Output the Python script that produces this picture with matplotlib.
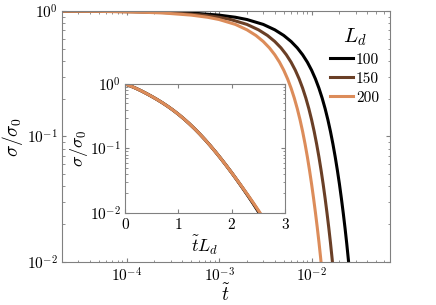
import numpy as np
import matplotlib.pyplot as plt

plt.rcParams['font.family'] = 'serif'
plt.rcParams['font.serif'] = ['cmr10']
plt.rcParams['mathtext.fontset'] = 'cm'
plt.rcParams['axes.formatter.use_mathtext'] = True

# diffusion lengths and colours
Ld = [100, 150, 200]
colors = ['#000000', '#6a3f26', '#dc8c5a']

# rescaled time t*Ld and log10(sigma/sigma0)
tLd = [0.002, 0.01, 0.03, 0.05, 0.1, 0.15, 0.2, 0.3, 0.4, 0.5, 0.6, 0.7, 0.8, 0.9,
       1.0, 1.1, 1.2, 1.3, 1.4, 1.5, 1.6, 1.7, 1.8, 1.9, 2.0, 2.1, 2.2, 2.3, 2.4,
       2.5, 2.55, 2.6, 2.65]
logsig = {
    100: [-0.001, -0.003, -0.01, -0.016, -0.033, -0.05, -0.068, -0.107, -0.15, -0.195,
          -0.243, -0.294, -0.349, -0.408, -0.472, -0.541, -0.615, -0.694, -0.778, -0.867,
          -0.961, -1.06, -1.163, -1.27, -1.38, -1.495, -1.612, -1.732, -1.856, -1.985,
          -2.055, -2.13, -2.21],
    150: [-0.001, -0.003, -0.01, -0.016, -0.033, -0.05, -0.068, -0.107, -0.15, -0.195,
          -0.243, -0.294, -0.349, -0.408, -0.472, -0.541, -0.615, -0.694, -0.778, -0.867,
          -0.961, -1.06, -1.163, -1.27, -1.38, -1.493, -1.609, -1.727, -1.848, -1.974,
          -2.04, -2.11, -2.185],
    200: [-0.001, -0.003, -0.01, -0.016, -0.033, -0.05, -0.068, -0.107, -0.15, -0.195,
          -0.243, -0.294, -0.349, -0.408, -0.472, -0.541, -0.615, -0.694, -0.778, -0.867,
          -0.961, -1.06, -1.163, -1.27, -1.38, -1.492, -1.606, -1.722, -1.84, -1.962,
          -2.026, -2.092, -2.16],
}

fig = plt.figure(figsize=(4.36, 3.05), dpi=100)
ax = fig.add_axes([0.142, 0.141, 0.752, 0.823])
ins = fig.add_axes([0.287, 0.302, 0.367, 0.423])

x = np.array(tLd)
for L, c in zip(Ld, colors):
    s = 10 ** np.array(logsig[L])
    ax.plot(x / L, s, color=c, lw=2.2, label=str(L))
    ins.plot(x, s, color=c, lw=2.2)

ax.set_xscale('log')
ax.set_yscale('log')
ax.set_xlim(2e-5, 7e-2)
ax.set_ylim(1e-2, 1)
ax.set_xticks([1e-4, 1e-3, 1e-2])
ax.set_yticks([1e-2, 1e-1, 1])
ax.set_xlabel(r'$\tilde{t}$', fontsize=14, labelpad=-1)
ax.set_ylabel(r'$\sigma/\sigma_0$', fontsize=14, labelpad=1)

ins.set_yscale('log')
ins.set_xlim(0, 3)
ins.set_ylim(1e-2, 1)
ins.set_xticks([0, 1, 2, 3])
ins.set_yticks([1e-2, 1e-1, 1])
ins.set_xlabel(r'$\tilde{t}L_d$', fontsize=13, labelpad=1)
ins.set_ylabel(r'$\sigma/\sigma_0$', fontsize=13, labelpad=0)

for a in (ax, ins):
    for sp in a.spines.values():
        sp.set_color('#808080')
        sp.set_linewidth(0.8)
    a.tick_params(which='both', direction='in', top=True, right=True,
                  color='#808080', labelsize=11, pad=3)
    a.tick_params(which='major', length=3)
    a.tick_params(which='minor', length=1.8)

leg = ax.legend(title=r'$L_d$', loc='upper right', bbox_to_anchor=(1.01, 0.995),
                frameon=False, fontsize=11, handlelength=1.5, handletextpad=0.2,
                labelspacing=0.35)
leg.get_title().set_fontsize(15)

fig.savefig('out.png', dpi=100)
